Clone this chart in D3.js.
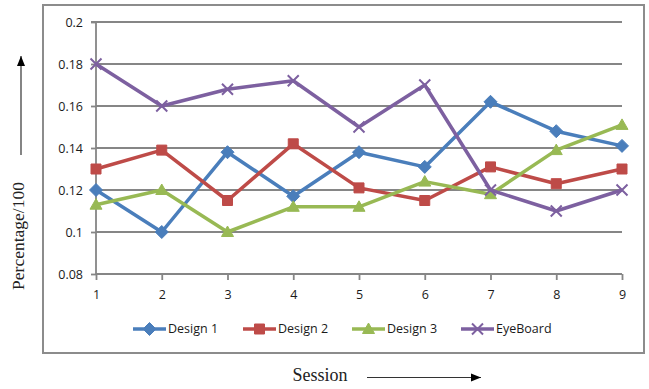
<!DOCTYPE html>
<html><head><meta charset="utf-8">
<script src="https://cdn.jsdelivr.net/npm/d3@7"></script>
<style>body{margin:0;background:#fff}svg{display:block}</style>
</head><body><svg id="c" width="649" height="389"></svg>
<script>
const sessions = [1,2,3,4,5,6,7,8,9];
const design1 = [0.12,0.10,0.138,0.117,0.138,0.131,0.162,0.148,0.141];
const design2 = [0.13,0.139,0.115,0.142,0.121,0.115,0.131,0.123,0.13];
const design3 = [0.113,0.12,0.10,0.112,0.112,0.124,0.118,0.139,0.151];
const eyeBoard = [0.18,0.16,0.168,0.172,0.15,0.17,0.12,0.11,0.12];
const yTicks = [0.08,0.1,0.12,0.14,0.16,0.18,0.2];
const seriesNames = ["Design 1","Design 2","Design 3","EyeBoard"];

const series = [
  {name:seriesNames[0], values:design1, color:"#4A7EBB", marker:"diamond"},
  {name:seriesNames[1], values:design2, color:"#BE4B48", marker:"square"},
  {name:seriesNames[2], values:design3, color:"#98B954", marker:"triangle"},
  {name:seriesNames[3], values:eyeBoard, color:"#7D60A0", marker:"x"}
];

const svg = d3.select("#c");
const L=96,R=622,T=22,B=274;
const x = d3.scalePoint().domain(sessions).range([L,R]);
const y = d3.scaleLinear().domain([0.08,0.2]).range([B,T]);

// chart frame
svg.append("rect").attr("x",43).attr("y",5).attr("width",601).attr("height",348)
  .attr("fill","none").attr("stroke","#8c8c8c").attr("stroke-width",2);

// gridlines
svg.append("g").selectAll("line").data(yTicks.slice(1)).join("line")
  .attr("x1",L).attr("x2",R).attr("y1",d=>y(d)).attr("y2",d=>y(d))
  .attr("stroke","#868686").attr("stroke-width",1.8);

// y axis
const ya = svg.append("g").attr("transform",`translate(${L},0)`)
  .call(d3.axisLeft(y).tickValues(yTicks).tickSize(5).tickPadding(8).tickFormat(d=>String(+d.toFixed(2))));
ya.select(".domain").attr("stroke","#868686").attr("stroke-width",1.8).attr("d",`M-5,${T}H0V${B}`);
ya.selectAll(".tick line").attr("stroke","#868686").attr("stroke-width",1.8);
ya.selectAll("text").attr("font-family","Open Sans").attr("font-size",12.5).attr("fill","#1a1a1a");

// x axis
const xa = svg.append("g").attr("transform",`translate(0,${B})`)
  .call(d3.axisBottom(x).tickSize(6).tickPadding(10));
xa.select(".domain").attr("stroke","#868686").attr("stroke-width",1.8).attr("d",`M${L},0H${R}`);
xa.selectAll(".tick line").attr("stroke","#868686").attr("stroke-width",1.8);
xa.selectAll("text").attr("font-family","Open Sans").attr("font-size",12.5).attr("fill","#1a1a1a");

function markerPath(type){
  if(type==="diamond") return "M0,-6.5L6.5,0L0,6.5L-6.5,0Z";
  if(type==="square") return "M-5,-5H5V5H-5Z";
  if(type==="triangle") return "M0,-6L6,4.5H-6Z";
  return "M-5.5,-5.5L5.5,5.5M-5.5,5.5L5.5,-5.5";
}

const line = d3.line().x((d,i)=>x(sessions[i])).y(d=>y(d));
series.forEach(s=>{
  const g = svg.append("g");
  g.append("path").attr("d",line(s.values)).attr("fill","none")
    .attr("stroke",s.color).attr("stroke-width",3.5).attr("stroke-linejoin","round");
  g.selectAll("path.m").data(s.values).join("path").attr("class","m")
    .attr("transform",(d,i)=>`translate(${x(sessions[i])},${y(d)})`)
    .attr("d",markerPath(s.marker))
    .attr("fill",s.marker==="x"?"none":s.color)
    .attr("stroke",s.color).attr("stroke-width",s.marker==="x"?2:1);
});

// legend
const legX = [133,243,352,461];
const lg = svg.append("g");
series.forEach((s,i)=>{
  const g = lg.append("g").attr("transform",`translate(${legX[i]},329)`);
  g.append("line").attr("x1",0).attr("x2",33).attr("stroke",s.color).attr("stroke-width",3.5);
  g.append("path").attr("transform","translate(16.5,0)").attr("d",markerPath(s.marker))
    .attr("fill",s.marker==="x"?"none":s.color).attr("stroke",s.color).attr("stroke-width",s.marker==="x"?2:1);
  g.append("text").attr("x",35).attr("y",0).attr("dy","0.35em")
    .attr("font-family","Open Sans").attr("font-size",12.5).attr("fill","#1a1a1a").text(s.name);
});

// axis titles with arrows
svg.append("defs").append("marker").attr("id","ah").attr("viewBox","0 0 10 10")
  .attr("refX",10).attr("refY",5).attr("markerWidth",10).attr("markerHeight",10)
  .attr("markerUnits","userSpaceOnUse").attr("orient","auto")
  .append("path").attr("d","M0,1L10,5L0,9Z").attr("fill","#000");

svg.append("text").attr("transform","translate(24,236) rotate(-90)").attr("text-anchor","middle")
  .attr("font-family","Liberation Serif").attr("font-size",17.5).attr("fill","#222").text("Percentage/100");
svg.append("line").attr("x1",21).attr("x2",21).attr("y1",155).attr("y2",56)
  .attr("stroke","#333").attr("stroke-width",1.2).attr("marker-end","url(#ah)");

svg.append("text").attr("x",320).attr("y",381).attr("text-anchor","middle")
  .attr("font-family","Liberation Serif").attr("font-size",18).attr("fill","#222").text("Session");
svg.append("line").attr("x1",367).attr("x2",481).attr("y1",377.5).attr("y2",377.5)
  .attr("stroke","#333").attr("stroke-width",1.2).attr("marker-end","url(#ah)");
</script></body></html>
